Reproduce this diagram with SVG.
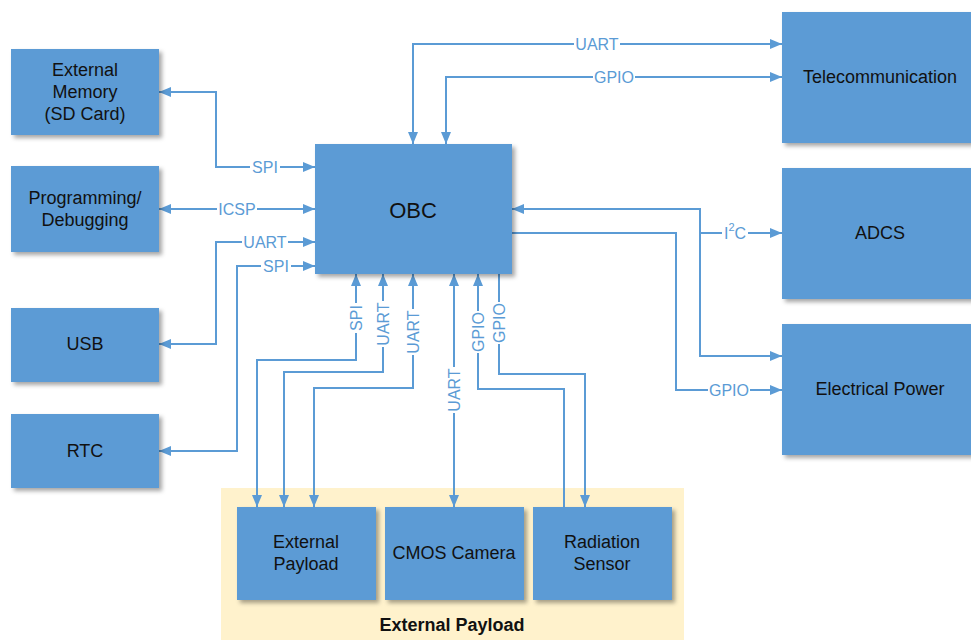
<svg xmlns="http://www.w3.org/2000/svg" width="971" height="640" viewBox="0 0 971 640">
  <defs>
    <filter id="shadow" x="-10%" y="-10%" width="130%" height="130%">
      <feDropShadow dx="3" dy="3" stdDeviation="2" flood-color="#000" flood-opacity="0.35"/>
    </filter>
    <marker id="arrow" viewBox="0 0 12 10" refX="12" refY="5" markerWidth="12" markerHeight="10" markerUnits="userSpaceOnUse" orient="auto-start-reverse">
      <path d="M0,0 L12,5 L0,10 z" fill="#5b9bd5"/>
    </marker>
  </defs>
  <style>
    .box { fill: #5b9bd5; filter: url(#shadow); }
    .txt { font-family: "Liberation Sans", Arial, sans-serif; font-size: 18px; fill: #111; text-anchor: middle; dominant-baseline: central; }
    .obc { font-size: 22px; }
    .bold { font-weight: bold; }
    .wire { fill: none; stroke: #5b9bd5; stroke-width: 2; }
    .both { marker-start: url(#arrow); marker-end: url(#arrow); }
    .end { marker-end: url(#arrow); }
    .start { marker-start: url(#arrow); }
    .gap { fill: #fff; }
    .lbl { font-family: "Liberation Sans", Arial, sans-serif; font-size: 16px; fill: #5b9bd5; text-anchor: middle; dominant-baseline: central; }
  </style>

  <rect width="971" height="640" fill="#fff"/>

  <!-- payload enclosure -->
  <g id="payload-group">
    <rect x="221" y="488" width="463" height="160" fill="#fff2cc"/>
    <text class="txt bold" x="452" y="625">External Payload</text>
  </g>

  <!-- connectors -->
  <g id="connectors">
    <path class="wire both" d="M315,167 H216 V92 H159"/>
    <path class="wire both" d="M315,209 H159"/>
    <path class="wire both" d="M315,242 H216 V344 H159"/>
    <path class="wire both" d="M315,266 H237 V451 H159"/>
    <path class="wire both" d="M413,144 V44 H782"/>
    <path class="wire both" d="M446,144 V77 H782"/>
    <path class="wire both" d="M512,209 H700 V356 H782"/>
    <path class="wire end" d="M700,233 H782"/>
    <path class="wire end" d="M512,233 H676 V390 H782"/>
    <path class="wire both" d="M356,274 V360 H257 V507"/>
    <path class="wire both" d="M383,274 V372 H284 V507"/>
    <path class="wire both" d="M413,274 V388 H314 V507"/>
    <path class="wire both" d="M454,274 V507"/>
    <path class="wire start" d="M478,274 V389 H564 V507"/>
    <path class="wire end" d="M499,274 V374 H585 V507"/>

    <!-- horizontal labels, each on a white gap -->
    <rect class="gap" x="250" y="160" width="30" height="14"/>
    <text class="lbl" x="265" y="167">SPI</text>
    <rect class="gap" x="217" y="202" width="40" height="14"/>
    <text class="lbl" x="237" y="209">ICSP</text>
    <rect class="gap" x="242" y="235" width="46" height="14"/>
    <text class="lbl" x="265" y="242">UART</text>
    <rect class="gap" x="261" y="259" width="30" height="14"/>
    <text class="lbl" x="276" y="266">SPI</text>
    <rect class="gap" x="574" y="37" width="46" height="14"/>
    <text class="lbl" x="597" y="44">UART</text>
    <rect class="gap" x="593" y="70" width="42" height="14"/>
    <text class="lbl" x="614" y="77">GPIO</text>
    <rect class="gap" x="722" y="225" width="26" height="16"/>
    <text class="lbl" x="735" y="233">I<tspan font-size="11" baseline-shift="super" dominant-baseline="auto">2</tspan>C</text>
    <rect class="gap" x="708" y="383" width="42" height="14"/>
    <text class="lbl" x="729" y="390">GPIO</text>

    <!-- vertical labels -->
    <g transform="translate(356,318) rotate(-90)">
      <rect class="gap" x="-15" y="-7" width="30" height="14"/>
      <text class="lbl">SPI</text>
    </g>
    <g transform="translate(383,324) rotate(-90)">
      <rect class="gap" x="-23" y="-7" width="46" height="14"/>
      <text class="lbl">UART</text>
    </g>
    <g transform="translate(413,332) rotate(-90)">
      <rect class="gap" x="-23" y="-7" width="46" height="14"/>
      <text class="lbl">UART</text>
    </g>
    <g transform="translate(454,390) rotate(-90)">
      <rect class="gap" x="-23" y="-7" width="46" height="14"/>
      <text class="lbl">UART</text>
    </g>
    <g transform="translate(478,332) rotate(-90)">
      <rect class="gap" x="-21" y="-7" width="42" height="14"/>
      <text class="lbl">GPIO</text>
    </g>
    <g transform="translate(499,323) rotate(-90)">
      <rect class="gap" x="-21" y="-7" width="42" height="14"/>
      <text class="lbl">GPIO</text>
    </g>
  </g>

  <!-- nodes -->
  <g id="ext-memory">
    <rect class="box" x="11" y="49" width="148" height="86"/>
    <text class="txt" x="85" y="70">External</text>
    <text class="txt" x="85" y="92">Memory</text>
    <text class="txt" x="85" y="114">(SD Card)</text>
  </g>
  <g id="programming">
    <rect class="box" x="11" y="166" width="148" height="86"/>
    <text class="txt" x="85" y="198">Programming/</text>
    <text class="txt" x="85" y="220">Debugging</text>
  </g>
  <g id="usb">
    <rect class="box" x="11" y="308" width="148" height="74"/>
    <text class="txt" x="85" y="344">USB</text>
  </g>
  <g id="rtc">
    <rect class="box" x="11" y="414" width="148" height="74"/>
    <text class="txt" x="85" y="451">RTC</text>
  </g>
  <g id="obc">
    <rect class="box" x="315" y="144" width="197" height="130"/>
    <text class="txt obc" x="413" y="210">OBC</text>
  </g>
  <g id="telecom">
    <rect class="box" x="782" y="12" width="200" height="131"/>
    <text class="txt" x="880" y="77">Telecommunication</text>
  </g>
  <g id="adcs">
    <rect class="box" x="782" y="168" width="200" height="131"/>
    <text class="txt" x="880" y="233">ADCS</text>
  </g>
  <g id="power">
    <rect class="box" x="782" y="324" width="200" height="131"/>
    <text class="txt" x="880" y="389">Electrical Power</text>
  </g>
  <g id="ext-payload">
    <rect class="box" x="237" y="507" width="139" height="93"/>
    <text class="txt" x="306" y="542">External</text>
    <text class="txt" x="306" y="564">Payload</text>
  </g>
  <g id="cmos-camera">
    <rect class="box" x="385" y="507" width="139" height="93"/>
    <text class="txt" x="454" y="553">CMOS Camera</text>
  </g>
  <g id="radiation-sensor">
    <rect class="box" x="533" y="507" width="139" height="93"/>
    <text class="txt" x="602" y="542">Radiation</text>
    <text class="txt" x="602" y="564">Sensor</text>
  </g>
</svg>
